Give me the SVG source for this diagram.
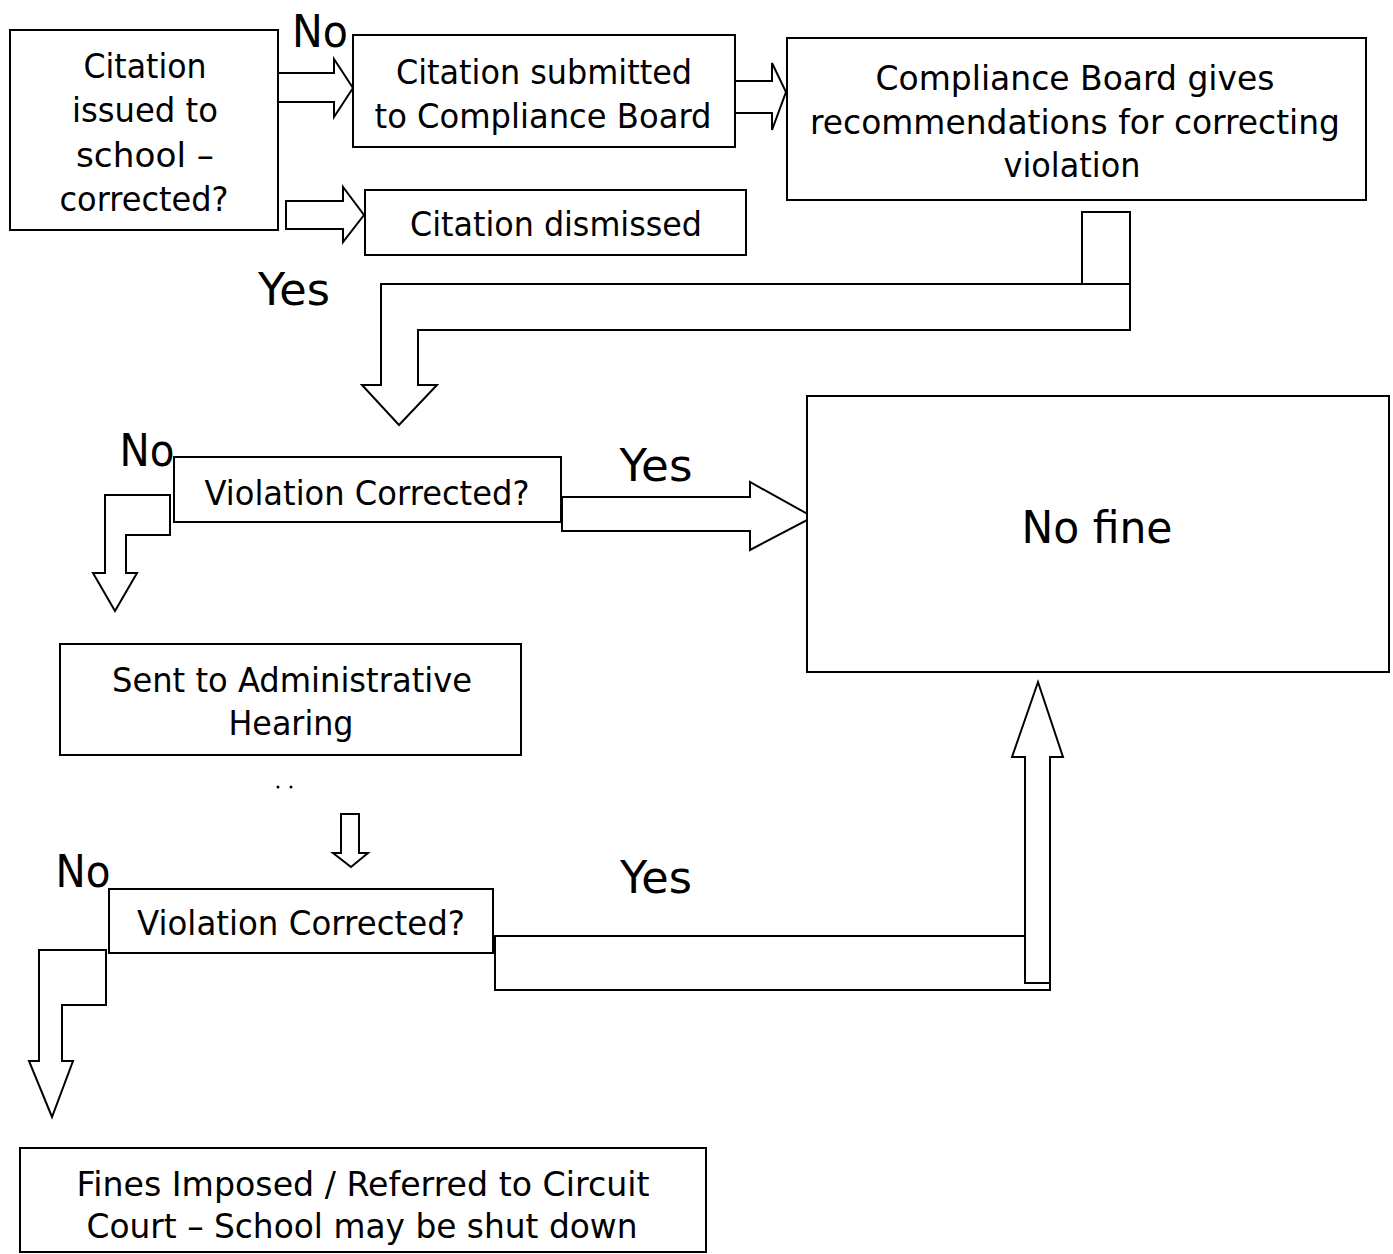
<svg xmlns="http://www.w3.org/2000/svg" width="1393" height="1254" viewBox="0 0 1393 1254">
<style>
.box{fill:#fff;stroke:#000;stroke-width:2}
.arr{fill:#fff;stroke:#000;stroke-width:2;stroke-linejoin:miter}
.ln{fill:none;stroke:#000;stroke-width:2}
text{font-family:"DejaVu Sans","Liberation Sans",sans-serif;fill:#000;text-anchor:middle}
.t{font-size:34px}
.big{font-size:44px}
.lbl{font-size:44px}
</style>
<rect width="1393" height="1254" fill="#fff"/>
<g id="connectors">
<polygon class="arr" points="278,73 334,73 334,59 353,88 334,117 334,102 278,102"/>
<polygon class="arr" points="286,201 343,201 343,187 364,215 343,242 343,229 286,229"/>
<polygon class="arr" points="734,81 772,81 772,63 786,92 772,130 772,113 734,113"/>
<path class="arr" d="M381,284 H1082 V212 H1130 V330 H418 V385 H437 L399,425 L362,385 H381 Z"/>
<path class="ln" d="M1082,284 H1130"/>
<polygon class="arr" points="562,497 750,497 750,482 813,517 750,550 750,531 562,531"/>
<path class="arr" d="M105,495 H170 V535 H126 V573 H137 L115,611 L93,573 H105 Z"/>
<path class="arr" d="M341,814 H359 V853 H368 L351,867 L333,853 H341 Z"/>
<path class="arr" d="M39,950 H106 V1005 H62 V1061 H73 L52,1117 L29,1061 H39 Z"/>
<path class="arr" d="M495,936 H1025 V757 H1012 L1038,682 L1063,757 H1050 V990 H495 Z"/>
<path class="ln" d="M1025,936 V983 H1050"/>
<circle cx="278" cy="787" r="1.5" fill="#000"/>
<circle cx="291" cy="787" r="1.5" fill="#000"/>
</g>
<g id="n1">
<rect class="box" x="10" y="30" width="268" height="200"/>
<text class="t" x="145" y="78" textLength="123" lengthAdjust="spacingAndGlyphs">Citation</text>
<text class="t" x="145" y="122" textLength="146" lengthAdjust="spacingAndGlyphs">issued to</text>
<text class="t" x="145" y="167" textLength="138" lengthAdjust="spacingAndGlyphs">school –</text>
<text class="t" x="144" y="211" textLength="169" lengthAdjust="spacingAndGlyphs">corrected?</text>
</g>
<g id="n2">
<rect class="box" x="353" y="35" width="382" height="112"/>
<text class="t" x="544" y="84" textLength="296" lengthAdjust="spacingAndGlyphs">Citation submitted</text>
<text class="t" x="543" y="128" textLength="337" lengthAdjust="spacingAndGlyphs">to Compliance Board</text>
</g>
<g id="n3">
<rect class="box" x="365" y="190" width="381" height="65"/>
<text class="t" x="556" y="236" textLength="292" lengthAdjust="spacingAndGlyphs">Citation dismissed</text>
</g>
<g id="n4">
<rect class="box" x="787" y="38" width="579" height="162"/>
<text class="t" x="1075" y="90" textLength="399" lengthAdjust="spacingAndGlyphs">Compliance Board gives</text>
<text class="t" x="1075" y="134" textLength="530" lengthAdjust="spacingAndGlyphs">recommendations for correcting</text>
<text class="t" x="1072" y="177" textLength="137" lengthAdjust="spacingAndGlyphs">violation</text>
</g>
<g id="n5">
<rect class="box" x="174" y="457" width="387" height="65"/>
<text class="t" x="367" y="505" textLength="325" lengthAdjust="spacingAndGlyphs">Violation Corrected?</text>
</g>
<g id="n6">
<rect class="box" x="807" y="396" width="582" height="276"/>
<text class="big" x="1097" y="543" textLength="151" lengthAdjust="spacingAndGlyphs">No fine</text>
</g>
<g id="n7">
<rect class="box" x="60" y="644" width="461" height="111"/>
<text class="t" x="292" y="692" textLength="360" lengthAdjust="spacingAndGlyphs">Sent to Administrative</text>
<text class="t" x="291" y="735" textLength="125" lengthAdjust="spacingAndGlyphs">Hearing</text>
</g>
<g id="n8">
<rect class="box" x="109" y="889" width="384" height="64"/>
<text class="t" x="301" y="935" textLength="328" lengthAdjust="spacingAndGlyphs">Violation Corrected?</text>
</g>
<g id="n9">
<rect class="box" x="20" y="1148" width="686" height="104"/>
<text class="t" x="363" y="1196" textLength="573" lengthAdjust="spacingAndGlyphs">Fines Imposed / Referred to Circuit</text>
<text class="t" x="362" y="1238" textLength="551" lengthAdjust="spacingAndGlyphs">Court – School may be shut down</text>
</g>
<g id="labels">
<text class="lbl" x="320" y="47" textLength="56" lengthAdjust="spacingAndGlyphs">No</text>
<text class="lbl" x="294" y="305" textLength="72" lengthAdjust="spacingAndGlyphs">Yes</text>
<text class="lbl" x="147" y="466" textLength="55" lengthAdjust="spacingAndGlyphs">No</text>
<text class="lbl" x="656" y="481" textLength="73" lengthAdjust="spacingAndGlyphs">Yes</text>
<text class="lbl" x="83" y="887" textLength="55" lengthAdjust="spacingAndGlyphs">No</text>
<text class="lbl" x="656" y="893" textLength="72" lengthAdjust="spacingAndGlyphs">Yes</text>
</g>
</svg>
